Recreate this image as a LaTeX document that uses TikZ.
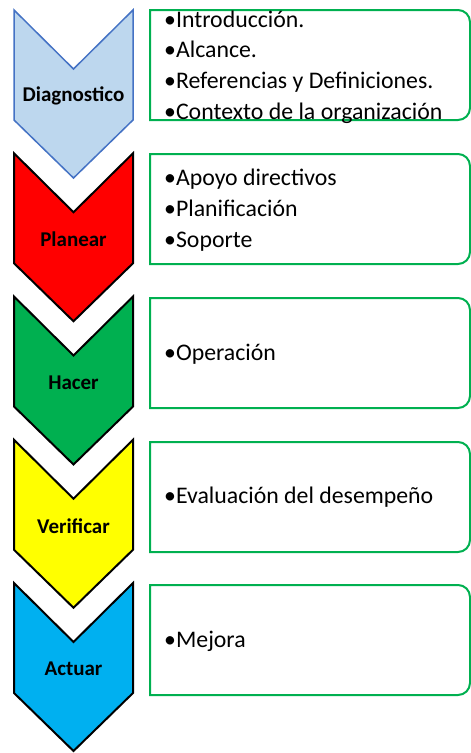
\documentclass[tikz,border=0pt]{standalone}
\usepackage{fontspec}
\setmainfont{Carlito}
\definecolor{diagfill}{HTML}{BDD7EE}
\definecolor{diagline}{HTML}{4472C4}
\definecolor{planfill}{HTML}{FF0000}
\definecolor{hacfill}{HTML}{00B050}
\definecolor{verfill}{HTML}{FFFF00}
\definecolor{actfill}{HTML}{00B0F0}
\definecolor{boxline}{HTML}{00B050}
\begin{document}
\begin{tikzpicture}[x=1pt,y=-1pt,
  chevline/.style={draw=black,line width=2pt,line join=miter},
  infobox/.style={draw=boxline,line width=2pt,fill=white},
  steplabel/.style={font=\fontsize{21}{24}\selectfont\bfseries,text=black},
  itemtext/.style={anchor=base west,font=\fontsize{23.8}{28}\selectfont,text=black,inner sep=0pt}]
\useasboundingbox (0,0) rectangle (471,753);
% chevrons
\newcommand{\chevronpath}[1]{(14,#1) -- (73.5,#1+59) -- (133,#1) -- (133,#1+110) -- (73.5,#1+168) -- (14,#1+110) -- cycle}
\path[fill=diagfill,draw=diagline,line width=1.5pt] \chevronpath{10};
\path[fill=planfill,chevline] \chevronpath{153.25};
\path[fill=hacfill,chevline] \chevronpath{296.5};
\path[fill=verfill,chevline] \chevronpath{439.75};
\path[fill=actfill,chevline] \chevronpath{583};
% labels
\node[steplabel] (l1) at (73.5,96) {Diagnostico};
\node[steplabel] (l2) at (73.5,239) {Planear};
\node[steplabel] (l3) at (73.5,383) {Hacer};
\node[steplabel] (l4) at (73.5,526) {Verificar};
\node[steplabel] (l5) at (73.5,669) {Actuar};
% boxes
\newcommand{\boxpath}[1]{(150,#1) -- (458,#1) arc[start angle=-90,end angle=0,radius=12] -- (470,#1+98) arc[start angle=0,end angle=90,radius=12] -- (150,#1+110) -- cycle}
\path[infobox] \boxpath{10};
\path[infobox] \boxpath{154};
\path[infobox] \boxpath{298};
\path[infobox] \boxpath{442};
\path[infobox] \boxpath{585};
% texts
\node[itemtext] (t1a) at (164,27) {•Introducción.};
\node[itemtext] (t1b) at (164,57.5) {•Alcance.};
\node[itemtext] (t1c) at (164,88) {•Referencias y Definiciones.};
\node[itemtext] (t1d) at (164,119) {•Contexto de la organización};
\node[itemtext] (t2a) at (164,185) {•Apoyo directivos};
\node[itemtext] (t2b) at (164,216) {•Planificación};
\node[itemtext] (t2c) at (164,247) {•Soporte};
\node[itemtext] (t3a) at (164,360) {•Operación};
\node[itemtext] (t4a) at (164,503) {•Evaluación del desempeño};
\node[itemtext] (t5a) at (164,647) {•Mejora};
\end{tikzpicture}
\end{document}
